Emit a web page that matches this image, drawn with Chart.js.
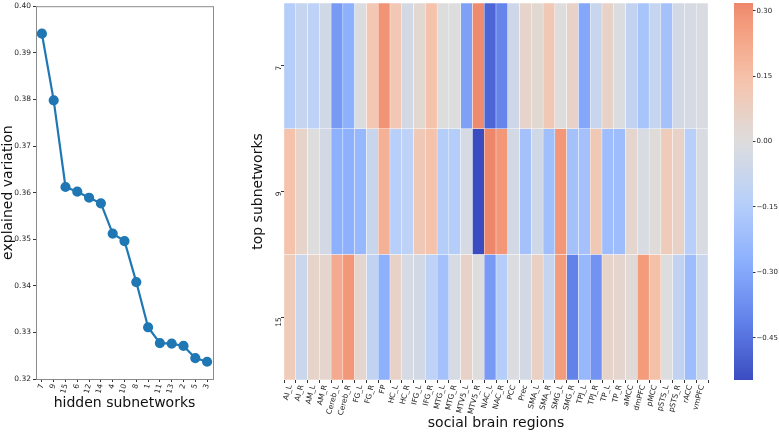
<!DOCTYPE html>
<html>
<head>
<meta charset="utf-8">
<script src="https://cdn.jsdelivr.net/npm/chart.js@4.4.1/dist/chart.umd.min.js"></script>
<style>
  html, body { margin: 0; padding: 0; background: #fff; }
  #wrap { position: relative; width: 779px; height: 432px; overflow: hidden; }
  canvas { position: absolute; top: 0; }
</style>
</head>
<body>
<div id="wrap">
  <canvas id="line-chart" width="232" height="432" style="left:0"></canvas>
  <canvas id="heat-chart" width="500" height="432" style="left:230px"></canvas>
  <canvas id="bar-scale" width="49" height="432" style="left:730px"></canvas>
</div>
<script>
// left panel: explained variation per hidden subnetwork
const hiddenNets = ['7', '9', '15', '6', '12', '14', '4', '10', '8', '1', '11', '13', '2', '5', '3'];
const explainedVar = [0.3941, 0.3798, 0.3612, 0.3602, 0.3589, 0.3577, 0.3512, 0.3496, 0.3408, 0.3311, 0.3277, 0.3276, 0.3271, 0.3245, 0.3237];

// heatmap: top subnetworks x social brain regions
const regions = ['AI_L', 'AI_R', 'AM_L', 'AM_R', 'Cereb_L', 'Cereb_R', 'FG_L', 'FG_R', 'FP', 'HC_L', 'HC_R',
  'IFG_L', 'IFG_R', 'MTG_L', 'MTG_R', 'MTV5_L', 'MTV5_R', 'NAC_L', 'NAC_R', 'PCC', 'Prec', 'SMA_L', 'SMA_R',
  'SMG_L', 'SMG_R', 'TPJ_L', 'TPJ_R', 'TP_L', 'TP_R', 'aMCC', 'dmPFC', 'pMCC', 'pSTS_L', 'pSTS_R', 'rACC', 'vmPFC'];
const topNets = ['7', '9', '15'];
const row7 = [-0.15, -0.09, -0.12, -0.05, -0.34, -0.27, -0.01, 0.12, 0.29, 0.12, -0.04, 0.03, 0.14, 0.0, 0.0, -0.32, 0.31, -0.48,
  -0.40, -0.06, 0.05, 0.03, 0.11, 0.0, 0.06, -0.30, -0.08, 0.06, -0.01, -0.10, -0.19, -0.09, -0.20, -0.04, -0.03, -0.02];
const row9 = [0.14, 0.05, 0.0, -0.04, -0.27, -0.27, -0.24, -0.08, 0.20, -0.14, -0.12, 0.11, 0.14, -0.15, -0.15, -0.03, -0.547, 0.318,
  0.28, -0.04, -0.20, -0.05, -0.21, 0.28, -0.20, -0.20, 0.11, -0.22, -0.22, 0.04, -0.02, 0.01, 0.10, 0.06, -0.14, -0.02];
const row15 = [0.10, -0.07, 0.05, 0.04, 0.22, 0.28, 0.04, -0.10, -0.27, 0.06, -0.03, -0.04, -0.12, -0.20, -0.03, 0.06, 0.0, -0.34,
  -0.15, -0.01, -0.04, 0.07, -0.09, 0.27, -0.41, -0.24, -0.36, 0.05, 0.04, 0.02, 0.27, 0.15, 0.0, -0.10, -0.22, -0.07];
const colorbarTicks = [0.30, 0.15, 0.00, -0.15, -0.30, -0.45];

const heatRows = [row7, row9, row15];
const allVals = heatRows.flat();
const vMin = Math.min(...allVals);
const vMax = Math.max(...allVals);
const halfRange = Math.max(Math.abs(vMin), Math.abs(vMax));

// matplotlib coolwarm, sampled at 1/8 steps
const cwStops = [[59, 76, 192], [98, 130, 234], [141, 176, 254], [184, 208, 249], [221, 221, 221],
  [245, 196, 173], [244, 154, 123], [222, 96, 77], [180, 4, 38]];
function coolwarm(t) {
  t = Math.min(1, Math.max(0, t));
  const p = t * (cwStops.length - 1);
  const i = Math.min(cwStops.length - 2, Math.floor(p));
  const f = p - i;
  const c = cwStops[i].map((a, k) => Math.round(a + (cwStops[i + 1][k] - a) * f));
  return `rgb(${c[0]}, ${c[1]}, ${c[2]})`;
}
const heatColor = v => coolwarm(0.5 + v / (2 * halfRange));

const fontFamily = '"DejaVu Sans", sans-serif';
const textColor = '#262626';
const tickFont = { family: fontFamily, size: 7.5 };
const titleFont = { family: fontFamily, size: 14 };

// keep the plot areas where the layout padding puts them
const noEdgePad = s => { s.paddingTop = 0; s.paddingBottom = 0; };

// draws the matplotlib style box around the line plot
const framePlugin = {
  id: 'frame',
  afterDraw(chart) {
    const { ctx, chartArea: a } = chart;
    ctx.save();
    ctx.strokeStyle = '#8a8a8a';
    ctx.lineWidth = 1;
    ctx.strokeRect(a.left + 0.5, a.top + 0.5, a.right - a.left, a.bottom - a.top);
    ctx.restore();
  }
};

new Chart(document.getElementById('line-chart'), {
  type: 'line',
  data: {
    labels: hiddenNets,
    datasets: [{
      data: explainedVar,
      borderColor: '#1f77b4',
      backgroundColor: '#1f77b4',
      borderWidth: 2.2,
      pointRadius: 4,
      pointHoverRadius: 4,
      tension: 0
    }]
  },
  options: {
    responsive: false,
    animation: false,
    devicePixelRatio: 1,
    layout: { padding: { top: 1, right: 19, bottom: 20, left: 0 } },
    plugins: { legend: { display: false }, tooltip: { enabled: false } },
    scales: {
      x: {
        offset: true,
        grid: { drawOnChartArea: false, tickLength: 3, color: '#333' },
        border: { display: false },
        ticks: { font: tickFont, color: textColor, minRotation: 75, maxRotation: 75, padding: 1, autoSkip: false },
        title: { display: true, text: 'hidden subnetworks', font: titleFont, color: '#111', padding: 0 },
        afterFit: s => { s.height = 33; s.paddingLeft = 0; s.paddingRight = 0; }
      },
      y: {
        min: 0.32,
        max: 0.40,
        grid: { drawOnChartArea: false, tickLength: 3, color: '#333' },
        border: { display: false },
        ticks: { stepSize: 0.01, font: tickFont, color: textColor, padding: 2, callback: v => v.toFixed(2) },
        title: { display: true, text: 'explained variation', font: titleFont, color: '#111', padding: 0 },
        afterFit: s => { s.width = 36; noEdgePad(s); }
      }
    }
  },
  plugins: [framePlugin]
});

new Chart(document.getElementById('heat-chart'), {
  type: 'bar',
  data: {
    labels: regions,
    datasets: topNets.map((net, r) => ({
      label: net,
      data: regions.map(() => [r, r + 1]),
      backgroundColor: heatRows[r].map(heatColor),
      borderColor: 'rgba(255, 255, 255, 0.75)',
      borderWidth: 0.5,
      borderSkipped: false,
      grouped: false,
      barPercentage: 1,
      categoryPercentage: 1
    }))
  },
  options: {
    responsive: false,
    animation: false,
    devicePixelRatio: 1,
    layout: { padding: { top: 3, right: 22, bottom: 0, left: 20 } },
    plugins: { legend: { display: false }, tooltip: { enabled: false } },
    scales: {
      x: {
        grid: { drawOnChartArea: false, tickLength: 3, color: '#333' },
        border: { display: false },
        ticks: { font: tickFont, color: textColor, minRotation: 75, maxRotation: 75, padding: 1, autoSkip: false },
        title: { display: true, text: 'social brain regions', font: titleFont, color: '#111', padding: 0 },
        afterFit: s => { s.height = 52; s.paddingLeft = 0; s.paddingRight = 0; }
      },
      y: {
        min: 0,
        max: topNets.length,
        reverse: true,
        grid: { drawOnChartArea: false, tickLength: 3, color: '#333' },
        border: { display: false },
        afterBuildTicks: s => { s.ticks = topNets.map((_, i) => ({ value: i + 0.5 })); },
        ticks: { font: tickFont, color: textColor, minRotation: 90, maxRotation: 90, padding: 2,
          callback: v => topNets[Math.floor(v)] },
        title: { display: true, text: 'top subnetworks', font: titleFont, color: '#111', padding: 0 },
        afterFit: s => { s.width = 34; noEdgePad(s); }
      }
    }
  }
});

new Chart(document.getElementById('bar-scale'), {
  type: 'bar',
  data: {
    labels: [''],
    datasets: [{
      data: [[vMin, vMax]],
      barPercentage: 1,
      categoryPercentage: 1,
      borderWidth: 0,
      backgroundColor: ctx => {
        const chart = ctx.chart;
        if (!chart.chartArea) return heatColor(0);
        const y = chart.scales.y;
        const g = chart.ctx.createLinearGradient(0, y.getPixelForValue(vMin), 0, y.getPixelForValue(vMax));
        for (let k = 0; k <= 40; k++) {
          g.addColorStop(k / 40, heatColor(vMin + (vMax - vMin) * k / 40));
        }
        return g;
      }
    }]
  },
  options: {
    responsive: false,
    animation: false,
    devicePixelRatio: 1,
    layout: { padding: { top: 3, right: 0, bottom: 52, left: 4 } },
    plugins: { legend: { display: false }, tooltip: { enabled: false } },
    scales: {
      x: { display: false },
      y: {
        position: 'right',
        min: vMin,
        max: vMax,
        grid: { drawOnChartArea: false, tickLength: 2.5, color: '#333' },
        border: { display: false },
        afterBuildTicks: s => { s.ticks = colorbarTicks.map(v => ({ value: v })); },
        ticks: { font: { family: fontFamily, size: 7 }, color: textColor, padding: 1,
          callback: v => (v < 0 ? '\u2212' : '') + Math.abs(v).toFixed(2) },
        afterFit: s => { s.width = 26; noEdgePad(s); }
      }
    }
  }
});
</script>
</body>
</html>
